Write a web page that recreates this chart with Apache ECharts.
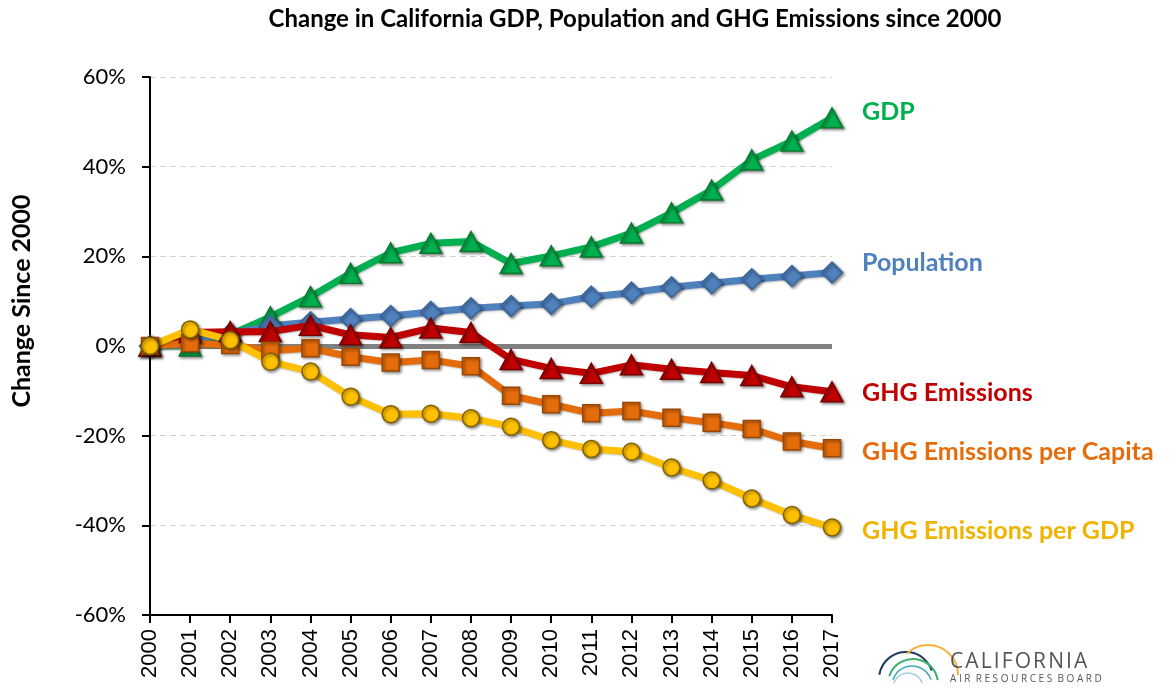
<!DOCTYPE html>
<html>
<head>
<meta charset="utf-8">
<script src="https://cdn.jsdelivr.net/npm/echarts@6/dist/echarts.min.js"></script>
<style>
html,body{margin:0;padding:0;background:#fff;}
#chart{width:1170px;height:696px;}
</style>
</head>
<body>
<div id="chart"></div>
<script>
// ---- data ----
var years = ['2000','2001','2002','2003','2004','2005','2006','2007','2008','2009','2010','2011','2012','2013','2014','2015','2016','2017'];
var gdp = [0, 0, 2.5, 6.5, 11.0, 16.2, 20.8, 22.9, 23.3, 18.4, 20.1, 22.1, 25.2, 29.7, 34.8, 41.5, 45.7, 50.9];
var population = [0, 1.4, 2.8, 4.5, 5.3, 6.0, 6.7, 7.6, 8.4, 8.9, 9.4, 11.0, 11.9, 13.1, 14.0, 14.9, 15.6, 16.4];
var ghgEmissions = [0, 3.0, 3.2, 3.2, 4.6, 2.5, 1.9, 4.0, 3.0, -3.0, -5.0, -6.1, -4.2, -5.2, -5.9, -6.6, -9.1, -10.2];
var ghgPerCapita = [0, 0.6, 0.2, -1.0, -0.5, -2.4, -3.7, -3.1, -4.5, -11.1, -13.0, -15.0, -14.5, -16.0, -17.1, -18.5, -21.3, -22.8];
var ghgPerGdp = [0, 3.7, 1.3, -3.5, -5.7, -11.3, -15.2, -15.1, -16.1, -18.0, -21.0, -23.0, -23.6, -27.1, -30.0, -34.0, -37.7, -40.5];
var yTicks = {min: -60, max: 60, interval: 20};
var titleText = 'Change in California GDP, Population and GHG Emissions since 2000';
var yTitle = 'Change Since 2000';

var FONT = 'Lato, "Open Sans", sans-serif';
var shadow = {shadowBlur: 3, shadowColor: 'rgba(0,0,0,0.45)', shadowOffsetX: 1.5, shadowOffsetY: 1.5};

function mkSeries(name, data, color, border, symbol, size, labelColor, dy, z, extra) {
  var s = {
    name: name,
    type: 'line',
    data: data,
    z: z,
    symbol: symbol,
    symbolSize: size,
    showAllSymbol: true,
    lineStyle: Object.assign({color: color, width: 7}, {shadowBlur: 2, shadowColor: 'rgba(0,0,0,0.25)', shadowOffsetX: 1, shadowOffsetY: 1}),
    itemStyle: Object.assign({color: color, borderColor: border, borderWidth: 1.5}, shadow),
    emphasis: {disabled: true},
    endLabel: {
      show: true,
      formatter: name,
      color: labelColor,
      fontFamily: FONT,
      fontWeight: 'bold',
      fontSize: 25,
      distance: 30,
      offset: [0, dy],
      align: 'left',
      verticalAlign: 'middle'
    }
  };
  if (extra) Object.assign(s, extra);
  return s;
}

var chart = echarts.init(document.getElementById('chart'), null, {renderer: 'canvas'});
chart.setOption({
  animation: false,
  backgroundColor: '#fff',
  title: {
    text: titleText,
    left: 630,
    top: 2,
    textAlign: 'center',
    textStyle: {fontFamily: FONT, fontWeight: 'bold', fontSize: 24, color: '#000'}
  },
  grid: {left: 150, right: 338, top: 77, bottom: 81, containLabel: false},
  xAxis: {
    type: 'category',
    data: years,
    boundaryGap: false,
    axisLine: {show: true, onZero: false, lineStyle: {color: '#000', width: 2}},
    axisTick: {show: true, alignWithLabel: true, length: 8, lineStyle: {color: '#000', width: 2}},
    axisLabel: {rotate: 90, fontSize: 22, fontFamily: '"Liberation Sans", Arial, sans-serif', color: '#000', margin: 14, interval: 0},
    splitLine: {show: false}
  },
  yAxis: {
    type: 'value',
    min: yTicks.min,
    max: yTicks.max,
    interval: yTicks.interval,
    axisLine: {show: true, lineStyle: {color: '#000', width: 2}},
    axisTick: {show: true, length: 8, lineStyle: {color: '#000', width: 2}},
    axisLabel: {formatter: '{value}%', fontSize: 22, fontFamily: FONT, color: '#000', margin: 24},
    splitLine: {show: true, lineStyle: {color: '#D0D0D0', type: [6, 4], width: 1}}
  },
  series: [
    mkSeries('GDP', gdp, '#00B050', '#0A7A2E', 'triangle', [22, 20], '#00B050', -6, 2, {
      markLine: {
        silent: true,
        z: 3,
        symbol: 'none',
        label: {show: false},
        lineStyle: {color: '#808080', width: 5, type: 'solid'},
        data: [{yAxis: 0}]
      }
    }),
    mkSeries('Population', population, '#4F81BD', '#3A669C', 'diamond', [21, 21], '#4F81BD', -10, 2),
    mkSeries('GHG Emissions', ghgEmissions, '#C00000', '#7A0000', 'triangle', [22, 20], '#C00000', 1, 4),
    mkSeries('GHG Emissions per Capita', ghgPerCapita, '#E46C0A', '#984807', 'rect', [17, 17], '#E46C0A', 4, 4),
    mkSeries('GHG Emissions per GDP', ghgPerGdp, '#FFC000', '#7F6000', 'circle', [17, 17], '#F0B400', 3, 4)
  ],
  graphic: [
    {
      type: 'text',
      x: 22, y: 301,
      rotation: Math.PI / 2,
      style: {text: yTitle, font: 'bold 25px ' + FONT, fill: '#000', align: 'center', verticalAlign: 'middle'}
    },
    {type: 'arc', shape: {cx: 906, cy: 679, r: 27, startAngle: Math.PI * 1.05, endAngle: Math.PI * 1.9, clockwise: true}, style: {stroke: '#1F3A5F', lineWidth: 2, fill: null}},
    {type: 'arc', shape: {cx: 928, cy: 675, r: 30, startAngle: Math.PI * 1.25, endAngle: Math.PI * 2.0, clockwise: true}, style: {stroke: '#F2B33D', lineWidth: 2, fill: null}},
    {type: 'arc', shape: {cx: 913, cy: 684, r: 25, startAngle: Math.PI * 1.1, endAngle: Math.PI * 1.95, clockwise: true}, style: {stroke: '#3DAE6B', lineWidth: 2, fill: null}},
    {type: 'arc', shape: {cx: 912, cy: 686, r: 20, startAngle: Math.PI * 1.1, endAngle: Math.PI * 1.9, clockwise: true}, style: {stroke: '#3FA7B5', lineWidth: 1.5, fill: null}},
    {type: 'arc', shape: {cx: 908, cy: 688, r: 15, startAngle: Math.PI * 1.1, endAngle: Math.PI * 1.9, clockwise: true}, style: {stroke: '#9FD3DA', lineWidth: 1.5, fill: null}},
    {
      type: 'text', x: 950, y: 662,
      style: {text: 'C\u200AA\u200AL\u200AI\u200AF\u200AO\u200AR\u200AN\u200AI\u200AA', font: '21px "Open Sans", sans-serif', fill: '#555', align: 'left', verticalAlign: 'middle'}
    },
    {
      type: 'text', x: 950, y: 679,
      style: {text: 'A I R  R E S O U R C E S  B O A R D', font: '10px "Open Sans", sans-serif', fill: '#555', align: 'left', verticalAlign: 'middle'}
    }
  ]
});
</script>
</body>
</html>
